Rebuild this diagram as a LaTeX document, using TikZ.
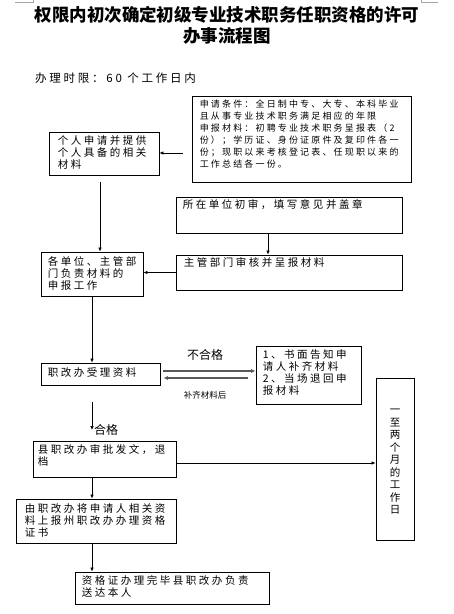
\documentclass[tikz,border=0pt]{standalone}
\usepackage{fontspec}
\setmainfont{Noto Sans CJK SC}
\newfontfamily\cjkbox[LetterSpace=24]{Noto Sans CJK SC}
\usetikzlibrary{arrows.meta, positioning}
\tikzset{
  box/.style={rectangle,draw,line width=0.8pt,inner sep=0pt},
  txt/.style={inner sep=0pt,align=left,font=\cjkbox\fontsize{10.5}{12}\selectfont},
  note/.style={inner sep=0pt,font=\fontsize{12}{14}\selectfont},
  line/.style={-{Latex[length=4pt,width=3.5pt]},line width=0.7pt},
  back/.style={-{Latex[length=4.5pt,width=4pt]},line width=1.1pt,black!65}
}

\begin{document}
\begin{tikzpicture}[x=1pt,y=-1pt]
\useasboundingbox (0,0) rectangle (454,614);
% page corner marks
\draw[black!35,line width=0.6pt] (15,2) -- (33,2) -- (33,0);
\draw[black!35,line width=0.6pt] (421,0) -- (421,2) -- (438,2);

% title and time limit
\node[align=center,font=\bfseries\fontsize{17.5}{21}\selectfont] (title) at (227,25) {权限内初次确定初级专业技术职务任职资格的许可\\办事流程图};
\node[txt,anchor=west,font=\cjkbox\fontsize{11.5}{13}\selectfont] (limit) at (35,78) {办理时限：60 个工作日内};

% boxes
\node[box,minimum width=219,minimum height=86] (cond) at (301.5,139) {};
\node[box,minimum width=110,minimum height=43] (apply) at (104,153.5) {};
\node[box,minimum width=226,minimum height=36] (unit) at (289,215) {};
\node[box,minimum width=226,minimum height=35] (dept) at (289,272.5) {};
\node[box,minimum width=102,minimum height=44] (each) at (92,274) {};
\node[box,minimum width=119,minimum height=22] (office) at (100.5,374) {};
\node[box,minimum width=105,minimum height=58] (reject) at (308.5,375) {};
\node[box,minimum width=143,minimum height=36] (county) at (104.5,459) {};
\node[box,minimum width=38,minimum height=162] (period) at (395,459) {};
\node[box,minimum width=160,minimum height=44] (prov) at (96,521) {};
\node[box,minimum width=194,minimum height=32] (final) at (172,588) {};

% box texts
\node[txt,anchor=north west,font=\cjkbox\fontsize{9}{12}\selectfont] (cond-t) at ([shift={(8,4)}]cond.north west)
  {申请条件：全日制中专、大专、本科毕业\\且从事专业技术职务满足相应的年限\\申报材料：初聘专业技术职务呈报表（2\\份）；学历证、身份证原件及复印件各一\\份；现职以来考核登记表、任现职以来的\\工作总结各一份。};
\node[txt,anchor=north west] (apply-t) at ([shift={(9,4)}]apply.north west) {个人申请并提供\\个人具备的相关\\材料};
\node[txt,anchor=north west] (unit-t) at ([shift={(7,3)}]unit.north west) {所在单位初审，填写意见并盖章};
\node[txt,anchor=north west] (dept-t) at ([shift={(8,3)}]dept.north west) {主管部门审核并呈报材料};
\node[txt,anchor=north west] (each-t) at ([shift={(7,5)}]each.north west) {各单位、主管部\\门负责材料的\\申报工作};
\node[txt,anchor=north west] (office-t) at ([shift={(7,5)}]office.north west) {职改办受理资料};
\node[txt,anchor=north west] (reject-t) at ([shift={(7,4)}]reject.north west) {1、书面告知申\\请人补齐材料\\2、当场退回申\\报材料};
\node[txt,anchor=north west] (county-t) at ([shift={(5,4)}]county.north west) {县职改办审批发文，退\\档};
\node[txt,anchor=north west] (prov-t) at ([shift={(9,5)}]prov.north west) {由职改办将申请人相关资\\料上报州职改办办理资格\\证书};
\node[txt,anchor=north west] (final-t) at ([shift={(7,4)}]final.north west) {资格证办理完毕县职改办负责\\送达本人};
\node[txt,align=center,font=\cjkbox\fontsize{10.5}{12.5}\selectfont] (period-t) at (395,462) {一\\至\\两\\个\\月\\的\\工\\作\\日};

% labels
\node[note] (fail) at (205,355) {不合格};
\node[note,font=\fontsize{8.5}{10}\selectfont] (resub) at (205,395) {补齐材料后};

% free ends
\coordinate (c1) at (183,153);
\coordinate (a1) at (100,182);
\coordinate (col) at (92,0);
\coordinate (q1) at (92,402);
\coordinate (q2) at (92,430);
\coordinate (r1) at ([shift={(3,-3)}]office.east);
\coordinate (r2) at ([shift={(-8,3)}]reject.west);

\node[note,anchor=west] (pass) at ([xshift=2pt]q2) {合格};

% connectors
\draw[line] (c1) -- (c1 -| apply.east);
\draw[line] (a1) -- (a1 |- each.north);
\draw[line] ([xshift=-21pt]unit.south) -- ([xshift=-21pt]dept.north);
\draw[line] (dept.west) -- (dept.west -| each.east);
\draw[line] (each.south -| col) -- (office.north -| col);
\draw[back] (r1) -- (r1 -| reject.west);
\draw[back] (r2) -- ([xshift=3pt]r2 -| office.east);
\draw[line] (q1) -- (q2);
\draw[line] ([yshift=-4pt]county.east) -- ([yshift=-4pt]period.west);
\draw[line] (county.south -| col) -- (prov.north -| col);
\draw[line] (prov.south -| col) -- (final.north -| col);
\end{tikzpicture}
\end{document}
